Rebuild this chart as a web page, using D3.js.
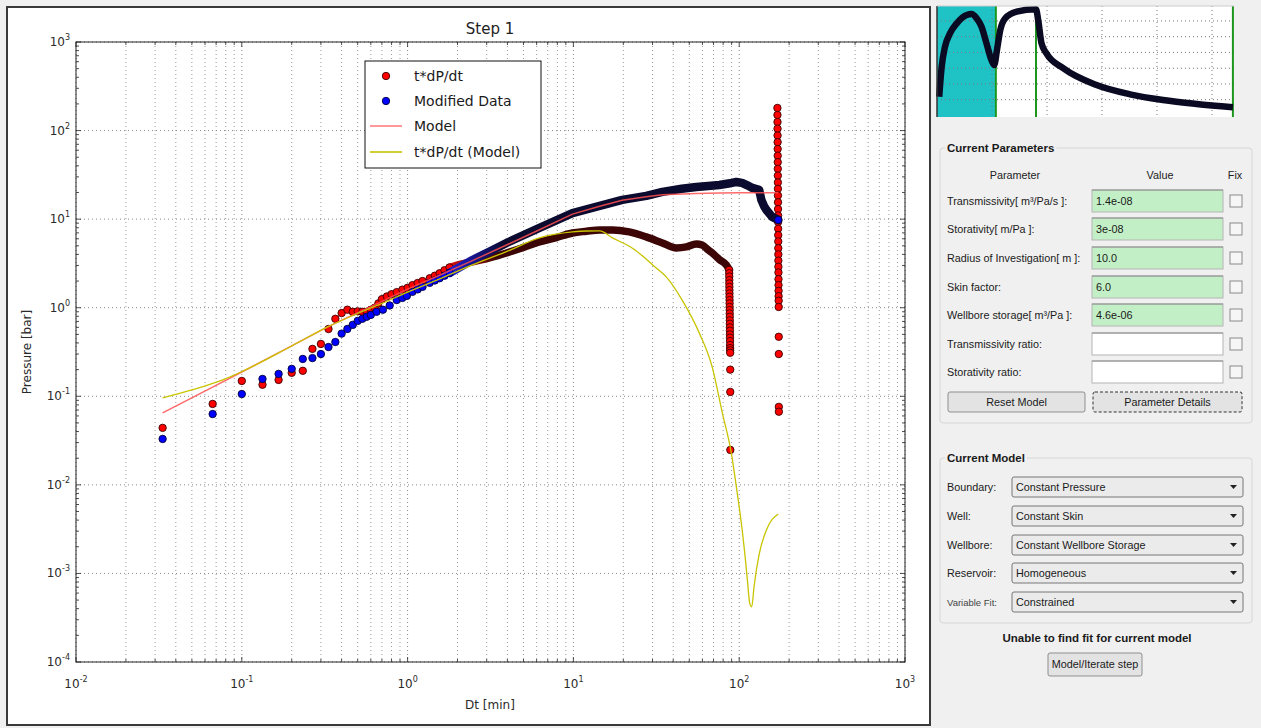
<!DOCTYPE html>
<html><head><meta charset="utf-8">
<script src="https://cdn.jsdelivr.net/npm/d3@7"></script>
<style>
body{margin:0;background:#f0f0f0;}
svg{display:block;}
</style></head><body>
<svg id="c" width="1261" height="728"></svg>
<script>
// ---------- DATA ----------
// t*dP/dt (red markers)
const tdpT = [0.0333,0.0667,0.1,0.1333,0.1667,0.2,0.2333,0.2667,0.3,0.3333,0.3667,0.4,0.4333,0.4667,0.5,0.5333,0.5667,0.6,0.6333,0.6667,0.7,0.75,0.8,0.86,0.93,1.0,1.07,1.15,1.23,1.36,1.46,1.56,1.67,1.79];
const tdpV = [0.044,0.082,0.149,0.135,0.153,0.184,0.194,0.343,0.39,0.575,0.75,0.87,0.95,0.90,0.91,0.90,0.90,0.95,1.0,1.12,1.25,1.34,1.42,1.5,1.6,1.68,1.8,1.9,2.0,2.15,2.3,2.45,2.65,2.85];
// dense part of t*dP/dt (overlapping markers form a band)
const tdpBandT = [1.79,2.1,2.46,3.12,3.95,5.0,6.24,7.9,9.87,12,14.4,17.2,21.7,27.5,34.4,41.7,48,55.1,59.8,64,68.7,76,83.6,87.1];
const tdpBandV = [2.85,3.1,3.3,3.65,4.15,4.8,5.53,6.2,6.98,7.3,7.55,7.55,7.17,6.30,5.39,4.73,4.86,5.25,5.11,4.6,4.15,3.5,3.04,2.67];
// end-of-step columns of t*dP/dt
const tdpCol1T = [87.0,87.05,87.1,87.15,87.2,87.25,87.3,87.35,87.4,87.45,87.5,87.55,87.6,87.65,87.7,87.75,87.8,87.85,87.9,87.95,88.0,88.05,88.1,88.15,88.2,88.25,88.3,88.35,88.4];
const tdpCol1V = [2.67,2.45,2.25,2.05,1.88,1.72,1.58,1.45,1.33,1.22,1.12,1.02,0.94,0.86,0.79,0.72,0.66,0.6,0.55,0.5,0.46,0.42,0.38,0.35,0.33,0.31,0.2,0.112,0.0248];
const tdpCol2T = [170,170.1,170.2,170.3,170.4,170.5,170.6,170.7,170.8,170.9,171,171.1,171.2,171.3,171.4,171.5,171.6,171.7,171.8,171.9,172,172.1,172.2,172.3,172.4,172.5,172.6,172.7,172.8,172.9,173,173.1,173.2,173.3,173.4,173.5];
const tdpCol2V = [180,150,125,105,88,74,62,52,44,37,31,26,22,18.5,15.5,13,11,9.3,7.8,6.6,5.6,4.7,4.0,3.4,2.9,2.5,2.1,1.8,1.55,1.35,1.2,1.02,0.47,0.30,0.076,0.067];
// Modified Data (blue markers)
const modT = [0.0333,0.0667,0.1,0.1333,0.1667,0.2,0.2333,0.2667,0.3,0.3333,0.3667,0.4,0.4333,0.4667,0.5,0.5333,0.5667,0.6,0.65,0.71,0.78,0.86,0.93,0.99,1.07,1.15,1.23,1.36,1.46,1.56,1.67,1.79];
const modV = [0.033,0.063,0.106,0.157,0.179,0.204,0.264,0.27,0.30,0.36,0.41,0.51,0.576,0.64,0.71,0.75,0.79,0.83,0.90,0.95,1.06,1.22,1.29,1.36,1.51,1.61,1.72,1.91,2.03,2.15,2.3,2.47];
const modBandT = [1.79,2.46,3.12,3.95,6.24,9.87,14.4,19.7,27.5,34.4,45,55.1,65,75.8,88,96,104,112,120,132,136,141,146,158,172];
const modBandV = [2.47,3.46,4.3,5.39,7.96,11.7,14.1,16.5,18.3,20.3,22.0,23.1,23.7,24.3,25.4,26.3,25.7,24.1,22.5,21.4,16.5,14.1,12.7,10.6,9.8];
// Model line
const modelT = [0.0333,0.0667,0.1,0.2,0.325,0.5,0.7,1.0,1.5,2.46,3.95,6.24,9.87,14.4,19.7,27.5,34.4,55,76,100,130,172];
const modelV = [0.065,0.127,0.188,0.37,0.60,0.88,1.18,1.62,2.25,3.4,5.1,7.6,11.4,14.0,16.3,17.9,18.8,19.5,19.7,19.8,19.8,19.8];
// t*dP/dt (Model)
const dModelT = [0.0333,0.05,0.0616,0.08,0.1,0.2,0.325,0.5,0.7,1.0,1.5,2.46,3.95,6.24,9.87,12,14.4,17.2,22.6,31.6,36.3,45.3,57.4,68.7,79.1,89.6,97.3,104,108,112,116,119,123,132,146,172];
const dModelV = [0.096,0.118,0.133,0.158,0.19,0.37,0.60,0.86,1.12,1.5,2.05,3.05,4.3,6.14,7.17,7.35,7.36,6.14,4.73,2.81,2.23,1.22,0.52,0.215,0.065,0.023,0.0081,0.0032,0.0017,0.00085,0.00045,0.00042,0.00072,0.00165,0.0031,0.0047];
// axis ticks (exponents)
const xExps = [-2,-1,0,1,2,3];
const yExps = [-4,-3,-2,-1,0,1,2,3];
const legendLabels = ["t*dP/dt","Modified Data","Model","t*dP/dt (Model)"];
// overview thumbnail (time, pressure)
const thumbT = [0.04,0.085,0.145,0.236,0.36,0.54,0.63,0.72,0.81,0.9,0.99,1.04,1.09,1.15,1.24,1.45,1.8,1.84,1.9,1.99,2.3,2.9,3.51,4.11,4.72,5.38];
const thumbP = [2.19,4.09,5.36,6.21,6.85,7.38,7.44,7.17,6.63,5.58,4.52,4.2,5.15,6.42,7.17,7.59,7.74,7.06,5.58,4.94,3.99,2.93,2.34,1.98,1.73,1.52];
const thumbMarks = [1.07,1.8,5.38];
const thumbXTicks = [1,2,3,4,5];
const thumbYTicks = [2,3,4,5,6,7];
// panel texts
const paramLabels = ["Transmissivity[ m³/Pa/s ]:","Storativity[ m/Pa ]:","Radius of Investigation[ m ]:","Skin factor:","Wellbore storage[ m³/Pa ]:","Transmissivity ratio:","Storativity ratio:"];
const paramValues = ["1.4e-08","3e-08","10.0","6.0","4.6e-06","",""];
const modelLabels = ["Boundary:","Well:","Wellbore:","Reservoir:","Variable Fit:"];
const modelValues = ["Constant Pressure","Constant Skin","Constant Wellbore Storage","Homogeneous","Constrained"];

// ---------- DRAW ----------
const svg = d3.select("#c");
const FONT = "DejaVu Sans, sans-serif";
const PFONT = "Liberation Sans, Arial, sans-serif";
const PS = 10.8;
const zip = (a,b) => a.map((d,i)=>[d,b[i]]);

// figure frame
svg.append("rect").attr("x",7).attr("y",7).attr("width",923).attr("height",718)
  .attr("fill","#fff").attr("stroke","#3a3a3a").attr("stroke-width",2);

const X = d3.scaleLog().domain([1e-2,1e3]).range([76,905]);
const Y = d3.scaleLog().domain([1e-4,1e3]).range([662,42]);
const [x0,x1] = X.range(), [y0,y1] = [42,662];

const defs = svg.append("defs");
defs.append("clipPath").attr("id","plotclip").append("rect")
  .attr("x",x0).attr("y",y0).attr("width",x1-x0).attr("height",y1-y0);

// grid
const grid = svg.append("g");
const xMinor = [], xMajor = [];
for (let e=-2;e<=2;e++) for (let k=1;k<=9;k++) (k===1?xMajor:xMinor).push(k*Math.pow(10,e));
xMajor.push(1e3);
const yMinor = [], yMajor = [];
for (let e=-4;e<=2;e++) for (let k=1;k<=9;k++) (k===1?yMajor:yMinor).push(k*Math.pow(10,e));
yMajor.push(1e3);
grid.selectAll(".vmin").data(xMinor).join("line")
  .attr("x1",d=>X(d)).attr("x2",d=>X(d)).attr("y1",y0).attr("y2",y1)
  .attr("stroke","#9a9a9a").attr("stroke-width",1).attr("stroke-dasharray","1,3");
grid.selectAll(".vmaj").data(xMajor).join("line")
  .attr("x1",d=>X(d)).attr("x2",d=>X(d)).attr("y1",y0).attr("y2",y1)
  .attr("stroke","#8a8a8a").attr("stroke-width",1).attr("stroke-dasharray","1,3");
grid.selectAll(".hmaj").data(yMajor).join("line")
  .attr("x1",x0).attr("x2",x1).attr("y1",d=>Y(d)).attr("y2",d=>Y(d))
  .attr("stroke","#8a8a8a").attr("stroke-width",1).attr("stroke-dasharray","1,3");

// ticks (inward, all sides)
const tk = svg.append("g").attr("stroke","#222").attr("stroke-width",0.8);
xMajor.concat(xMinor).forEach(v=>{
  const L = xMajor.includes(v)?5:3;
  tk.append("line").attr("x1",X(v)).attr("x2",X(v)).attr("y1",y1).attr("y2",y1-L);
  tk.append("line").attr("x1",X(v)).attr("x2",X(v)).attr("y1",y0).attr("y2",y0+L);
});
yMajor.concat(yMinor).forEach(v=>{
  const L = yMajor.includes(v)?5:3;
  tk.append("line").attr("y1",Y(v)).attr("y2",Y(v)).attr("x1",x0).attr("x2",x0+L);
  tk.append("line").attr("y1",Y(v)).attr("y2",Y(v)).attr("x1",x1).attr("x2",x1-L);
});

// data layer
const plot = svg.append("g").attr("clip-path","url(#plotclip)");
const line = d3.line().x(d=>X(d[0])).y(d=>Y(d[1])).curve(d3.curveMonotoneX);
const lineLin = d3.line().x(d=>X(d[0])).y(d=>Y(d[1]));

function grad(id, c1, c2, t1, t2){
  const g = defs.append("linearGradient").attr("id",id).attr("gradientUnits","userSpaceOnUse")
    .attr("x1",X(t1)).attr("x2",X(t2)).attr("y1",0).attr("y2",0);
  g.append("stop").attr("offset",0).attr("stop-color",c1);
  g.append("stop").attr("offset",1).attr("stop-color",c2);
}
grad("redband","#c81010","#3c0606",1.9,3.5);
grad("blueband","#1c1cc8","#0b0b30",1.9,3.8);

function markers(g, T, V, fill, edge){
  g.selectAll(null).data(zip(T,V)).join("circle")
    .attr("cx",d=>X(d[0])).attr("cy",d=>Y(d[1])).attr("r",3.7)
    .attr("fill",fill).attr("stroke",edge).attr("stroke-width",0.9);
}
// red series
plot.append("path").datum(zip(tdpBandT,tdpBandV)).attr("d",line)
  .attr("fill","none").attr("stroke","url(#redband)").attr("stroke-width",7.5).attr("stroke-linecap","round");
const gRed = plot.append("g");
markers(gRed, tdpT, tdpV, "#ff0000", "#3a0000");
markers(gRed, tdpCol1T, tdpCol1V, "#ff0000", "#3a0000");
markers(gRed, tdpCol2T, tdpCol2V, "#ff0000", "#3a0000");
// blue series
plot.append("path").datum(zip(modBandT,modBandV)).attr("d",lineLin)
  .attr("fill","none").attr("stroke","url(#blueband)").attr("stroke-width",8.5)
  .attr("stroke-linecap","round").attr("stroke-linejoin","round");
const gBlue = plot.append("g");
markers(gBlue, modT, modV, "#0000ff", "#00003a");
markers(gBlue, [modBandT[modBandT.length-1]], [modBandV[modBandV.length-1]], "#0000ff", "#00003a");
// model lines
plot.append("path").datum(zip(modelT,modelV)).attr("d",lineLin)
  .attr("fill","none").attr("stroke","#ff5050").attr("stroke-opacity",0.85).attr("stroke-width",1.5);
plot.append("path").datum(zip(dModelT,dModelV)).attr("d",line)
  .attr("fill","none").attr("stroke","#c8c400").attr("stroke-width",1.3);

// axes frame
svg.append("rect").attr("x",x0).attr("y",y0).attr("width",x1-x0).attr("height",y1-y0)
  .attr("fill","none").attr("stroke","#222").attr("stroke-width",1);

// tick labels
const lab = svg.append("g").attr("font-family",FONT).attr("fill","#2a2a2a");
xExps.forEach(e=>{
  const t = lab.append("text").attr("x",X(Math.pow(10,e))).attr("y",688).attr("text-anchor","middle").attr("font-size",12);
  t.append("tspan").text("10");
  t.append("tspan").attr("dy",-6).attr("font-size",8).text(String(e));
});
yExps.forEach(e=>{
  const t = lab.append("text").attr("x",70).attr("y",Y(Math.pow(10,e))+4).attr("text-anchor","end").attr("font-size",12);
  t.append("tspan").text("10");
  t.append("tspan").attr("dy",-6).attr("font-size",8).text(String(e));
});
lab.append("text").attr("x",490).attr("y",709).attr("text-anchor","middle").attr("font-size",12).text("Dt [min]");
lab.append("text").attr("transform","translate(31,352) rotate(-90)").attr("text-anchor","middle").attr("font-size",12).text("Pressure [bar]");
svg.append("text").attr("x",490).attr("y",34).attr("text-anchor","middle").attr("font-family",FONT)
  .attr("font-size",15).attr("fill","#222").text("Step 1");

// legend
const lg = svg.append("g").attr("font-family",FONT);
lg.append("rect").attr("x",365).attr("y",61).attr("width",176).attr("height",107)
  .attr("fill","#fff").attr("stroke","#111").attr("stroke-width",1);
const ly = [76,101,126,152];
lg.append("circle").attr("cx",386).attr("cy",ly[0]).attr("r",3.7).attr("fill","#ff0000").attr("stroke","#3a0000").attr("stroke-width",0.9);
lg.append("circle").attr("cx",386).attr("cy",ly[1]).attr("r",3.7).attr("fill","#0000ff").attr("stroke","#00003a").attr("stroke-width",0.9);
lg.append("line").attr("x1",370).attr("x2",402).attr("y1",ly[2]).attr("y2",ly[2]).attr("stroke","#ff8080").attr("stroke-width",1.6);
lg.append("line").attr("x1",370).attr("x2",402).attr("y1",ly[3]).attr("y2",ly[3]).attr("stroke","#c8c400").attr("stroke-width",1.6);
legendLabels.forEach((s,i)=>lg.append("text").attr("x",414).attr("y",ly[i]+5).attr("font-size",14).attr("fill","#1a1a1a").text(s));

// ---------- RIGHT PANEL ----------
const P = svg.append("g").attr("font-family",PFONT);
const TX = d3.scaleLinear().domain([0,5.4]).range([937,1234]);
const TY = d3.scaleLinear().domain([0.9,7.95]).range([117,6]);
P.append("rect").attr("x",937).attr("y",6).attr("width",297).attr("height",111).attr("fill","#fff");
P.append("rect").attr("x",TX(0)).attr("y",6).attr("width",TX(thumbMarks[0])-TX(0)).attr("height",111).attr("fill","#1fc3c6");
P.selectAll(".tgx").data(thumbXTicks).join("line").attr("x1",d=>TX(d)).attr("x2",d=>TX(d)).attr("y1",6).attr("y2",117)
  .attr("stroke","#777").attr("stroke-dasharray","1,3");
P.selectAll(".tgy").data(thumbYTicks).join("line").attr("y1",d=>TY(d)).attr("y2",d=>TY(d)).attr("x1",937).attr("x2",1234)
  .attr("stroke","#777").attr("stroke-dasharray","1,3");
P.selectAll(".tm").data(thumbMarks).join("line").attr("x1",d=>TX(d)).attr("x2",d=>TX(d)).attr("y1",6).attr("y2",117)
  .attr("stroke","#1c961c").attr("stroke-width",2);
P.append("path").datum(zip(thumbT,thumbP))
  .attr("d",d3.line().x(d=>TX(d[0])).y(d=>TY(d[1])).curve(d3.curveMonotoneX))
  .attr("fill","none").attr("stroke","#0a0a22").attr("stroke-width",6.5).attr("stroke-linejoin","round");
P.append("line").attr("x1",937).attr("x2",937).attr("y1",6).attr("y2",117).attr("stroke","#333").attr("stroke-width",1.5);
P.append("line").attr("x1",937).attr("x2",1234).attr("y1",6).attr("y2",6).attr("stroke","#ccc").attr("stroke-width",1);

function groupBox(x,y,w,h,title){
  P.append("rect").attr("x",x).attr("y",y).attr("width",w).attr("height",h).attr("rx",3)
    .attr("fill","none").attr("stroke","#d6d6d6").attr("stroke-width",1);
  const t = P.append("text").attr("x",x+7).attr("y",y+4).attr("font-size",11.5).attr("font-weight","bold")
    .attr("fill","#1a1a1a").text(title);
  const bb = t.node().getBBox();
  P.insert("rect", function(){return t.node();}).attr("x",bb.x-2).attr("y",bb.y).attr("width",bb.width+4).attr("height",bb.height).attr("fill","#f0f0f0");
}
groupBox(940,148,312,275,"Current Parameters");
P.append("text").attr("x",1015).attr("y",179).attr("text-anchor","middle").attr("font-size",PS).attr("fill","#222").text("Parameter");
P.append("text").attr("x",1160).attr("y",179).attr("text-anchor","middle").attr("font-size",PS).attr("fill","#222").text("Value");
P.append("text").attr("x",1235).attr("y",179).attr("text-anchor","middle").attr("font-size",PS).attr("fill","#222").text("Fix");
const rowY = [201,229,258,287,315,344,372];
paramLabels.forEach((s,i)=>{
  const cy = rowY[i];
  P.append("text").attr("x",947).attr("y",cy+4).attr("font-size",PS).attr("fill","#1a1a1a").text(s);
  P.append("rect").attr("x",1092).attr("y",cy-11).attr("width",131).attr("height",22)
    .attr("fill",paramValues[i]?"#c3efc6":"#ffffff").attr("stroke","#b4b4b4");
  P.append("line").attr("x1",1092).attr("x2",1223).attr("y1",cy-11).attr("y2",cy-11).attr("stroke","#8c8c8c");
  if (paramValues[i]) P.append("text").attr("x",1096).attr("y",cy+4).attr("font-size",PS).attr("fill","#1a1a1a").text(paramValues[i]);
  P.append("rect").attr("x",1230).attr("y",cy-6).attr("width",12).attr("height",12).attr("fill","#f6f6f6").attr("stroke","#8a8a8a");
});
function button(x,y,w,h,label,dashed){
  P.append("rect").attr("x",x).attr("y",y).attr("width",w).attr("height",h).attr("rx",2)
    .attr("fill","#e3e3e3").attr("stroke",dashed?"#333":"#8f8f8f").attr("stroke-dasharray",dashed?"3,2":null);
  P.append("text").attr("x",x+w/2).attr("y",y+h/2+3.5).attr("text-anchor","middle").attr("font-size",PS).attr("fill","#1a1a1a").text(label);
}
button(948,392,137,20,"Reset Model",false);
button(1093,392,149,20,"Parameter Details",true);

groupBox(940,458,312,165,"Current Model");
const mRowY = [487,516,545,573,602];
modelLabels.forEach((s,i)=>{
  const cy = mRowY[i];
  P.append("text").attr("x",947).attr("y",cy+4).attr("font-size",i===4?9.5:PS).attr("fill",i===4?"#444":"#1a1a1a").text(s);
  P.append("rect").attr("x",1012).attr("y",cy-10).attr("width",231).attr("height",20).attr("rx",2)
    .attr("fill","#ebebeb").attr("stroke","#777");
  P.append("text").attr("x",1016).attr("y",cy+4).attr("font-size",PS).attr("fill","#1a1a1a").text(modelValues[i]);
  P.append("path").attr("d",`M${1230},${cy-2} L${1237},${cy-2} L${1233.5},${cy+2} Z`).attr("fill","#222");
});
P.append("text").attr("x",1097).attr("y",642).attr("text-anchor","middle").attr("font-size",11.5)
  .attr("font-weight","bold").attr("fill","#1a1a1a").text("Unable to find fit for current model");
button(1048,653,94,23,"Model/Iterate step",false);
</script>
</body></html>
